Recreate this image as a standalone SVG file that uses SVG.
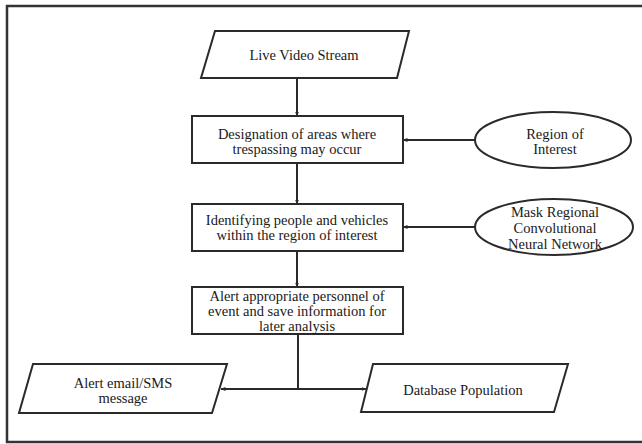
<svg xmlns="http://www.w3.org/2000/svg" width="642" height="444" viewBox="0 0 642 444" font-family="Liberation Serif, DejaVu Serif, serif">
<style>
.s{fill:#fff;stroke:#2a2a2a;stroke-width:2}
text{font-family:"Liberation Serif","DejaVu Serif",serif;font-size:14.5px;fill:#1a1a1a;text-anchor:middle}
.c{fill:none;stroke:#2a2a2a;stroke-width:2}
</style>
<defs>
<marker id="a" viewBox="0 0 10 10" refX="9" refY="5" markerWidth="5" markerHeight="5" orient="auto" markerUnits="userSpaceOnUse">
<path d="M0,1 L10,5 L0,9 z" fill="#2a2a2a"/>
</marker>
</defs>
<rect x="7" y="6" width="645" height="436" fill="#fff" stroke="#333" stroke-width="2.5"/>
<g id="connectors">
<line class="c" x1="297" y1="78" x2="297" y2="116" marker-end="url(#a)"/>
<line class="c" x1="297" y1="163" x2="297" y2="204" marker-end="url(#a)"/>
<line class="c" x1="297" y1="251" x2="297" y2="287" marker-end="url(#a)"/>
<line class="c" x1="475" y1="140" x2="403" y2="140" marker-end="url(#a)"/>
<line class="c" x1="475" y1="227" x2="403" y2="227" marker-end="url(#a)"/>
<line class="c" x1="298" y1="334" x2="298" y2="389"/>
<line class="c" x1="298" y1="389" x2="221" y2="389" marker-end="url(#a)"/>
<line class="c" x1="298" y1="389" x2="366" y2="389" marker-end="url(#a)"/>
</g>
<g id="live">
<polygon class="s" points="215,31 409,31 397,78 201,78"/>
<text x="304" y="60">Live Video Stream</text>
</g>
<g id="designation">
<rect class="s" x="192" y="116" width="211" height="47"/>
<text x="297" y="139">Designation of areas where</text>
<text x="297" y="154">trespassing may occur</text>
</g>
<g id="roi">
<ellipse class="s" cx="553" cy="140" rx="78" ry="28"/>
<text x="555" y="139">Region of</text>
<text x="555" y="154">Interest</text>
</g>
<g id="identify">
<rect class="s" x="192" y="204" width="211" height="47"/>
<text x="297" y="225">Identifying people and vehicles</text>
<text x="297" y="240">within the region of interest</text>
</g>
<g id="mask">
<ellipse class="s" cx="554" cy="227" rx="79" ry="28"/>
<text x="555" y="217">Mask Regional</text>
<text x="555" y="233">Convolutional</text>
<text x="555" y="249">Neural Network</text>
</g>
<g id="alert">
<rect class="s" x="192" y="287" width="211" height="47"/>
<text x="297" y="301">Alert appropriate personnel of</text>
<text x="297" y="316">event and save information for</text>
<text x="297" y="331">later analysis</text>
</g>
<g id="email">
<polygon class="s" points="33,364 227,364 212,413 19,413"/>
<text x="123" y="388">Alert email/SMS</text>
<text x="123" y="403">message</text>
</g>
<g id="db">
<polygon class="s" points="373,364 568,364 554,412 361,412"/>
<text x="463" y="395">Database Population</text>
</g>
</svg>
